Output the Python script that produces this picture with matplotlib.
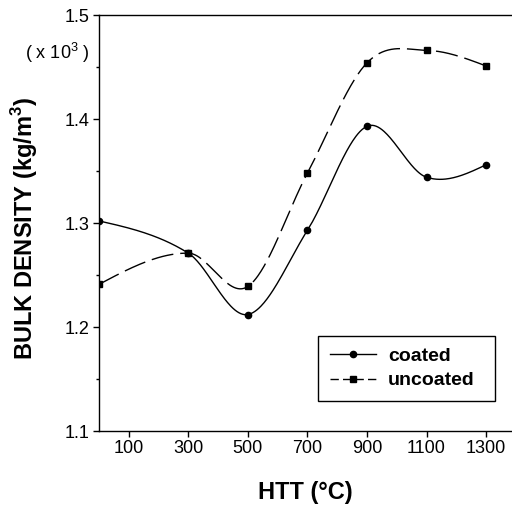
import numpy as np
import matplotlib
matplotlib.use("Agg")
import matplotlib.pyplot as plt

plt.rcParams['font.family'] = ['Liberation Sans', 'DejaVu Sans']
plt.rcParams['mathtext.fontset'] = 'custom'
plt.rcParams['mathtext.rm'] = 'Liberation Sans'
plt.rcParams['mathtext.bf'] = 'Liberation Sans:bold'

htt = [0, 300, 500, 700, 900, 1100, 1300]
coated = [1.302, 1.271, 1.212, 1.293, 1.393, 1.344, 1.356]
uncoated = [1.241, 1.271, 1.239, 1.348, 1.454, 1.466, 1.451]
xticks = [100, 300, 500, 700, 900, 1100, 1300]
yticks = [1.1, 1.2, 1.3, 1.4, 1.5]


def smooth(x, y, n=60):
    # cubic Hermite curve through the points (Catmull-Rom style tangents)
    x = np.asarray(x, float)
    y = np.asarray(y, float)
    k = len(x)
    m = np.zeros(k)
    for i in range(1, k - 1):
        m[i] = (y[i + 1] - y[i - 1]) / (x[i + 1] - x[i - 1])
    s0 = (y[1] - y[0]) / (x[1] - x[0])
    s1 = (y[-1] - y[-2]) / (x[-1] - x[-2])
    m[0] = 1.5 * s0 - 0.5 * m[1]
    m[-1] = 1.5 * s1 - 0.5 * m[-2]
    xs_all, ys_all = [], []
    for i in range(k - 1):
        h = x[i + 1] - x[i]
        t = np.linspace(0, 1, n)
        h00 = 2 * t ** 3 - 3 * t ** 2 + 1
        h10 = t ** 3 - 2 * t ** 2 + t
        h01 = -2 * t ** 3 + 3 * t ** 2
        h11 = t ** 3 - t ** 2
        xs_all.append(x[i] + t * h)
        ys_all.append(h00 * y[i] + h10 * h * m[i] + h01 * y[i + 1] + h11 * h * m[i + 1])
    return np.concatenate(xs_all), np.concatenate(ys_all)


fig = plt.figure(figsize=(5.12, 5.08), dpi=100)
ax = fig.add_axes([99 / 512, 1 - 431 / 508, (512 - 99) / 512, (431 - 15) / 508])

xs, ys = smooth(htt, coated)
ax.plot(xs, ys, color='black', lw=1.0)
ax.plot(htt, coated, 'o', color='black', ms=4.5)

xs, ys = smooth(htt, uncoated)
ax.plot(xs, ys, color='black', lw=1.0, dashes=(16, 5))
ax.plot(htt, uncoated, 's', color='black', ms=3.8)

# legend proxies
ax.plot([], [], '-o', color='black', lw=1.0, ms=4.5, label='coated')
ax.plot([], [], 's', color='black', lw=1.0, ms=3.8, ls=(0, (6, 3)), label='uncoated')

ax.set_xlim(0, 1387)
ax.set_ylim(1.1, 1.5)
ax.set_xticks(xticks)
ax.set_yticks(yticks)
ax.set_yticks([1.15, 1.25, 1.35, 1.45], minor=True)
ax.tick_params(axis='both', which='major', direction='out', length=4, width=1,
               labelsize=13, colors='black', pad=2.5)
ax.tick_params(axis='y', which='minor', direction='out', length=2.5, width=1)
ax.spines['right'].set_visible(False)
for s in ['left', 'top', 'bottom']:
    ax.spines[s].set_linewidth(1)

ax.set_xlabel('HTT (°C)', fontsize=17, fontweight='bold', va='center')
ax.xaxis.set_label_coords(0.499, -0.149)
ax.set_ylabel(r'BULK DENSITY (kg/m$^\mathbf{3}$)', fontsize=17, fontweight='bold', va='center')
ax.yaxis.set_label_coords(-0.18, 0.488)

fig.text(57 / 512, 1 - 53 / 508, r'( x 10$^3$ )', fontsize=13, ha='center', va='center')

leg = ax.legend(loc='lower left', bbox_to_anchor=(0.530, 0.072, 0.429, 0.166),
                mode='expand', fancybox=False,
                edgecolor='black', framealpha=1, handlelength=2.4,
                prop={'size': 14, 'weight': 'bold'}, borderpad=0.6,
                labelspacing=0.35, handletextpad=0.6, borderaxespad=0)
leg.get_frame().set_linewidth(1)

fig.savefig('out.png', dpi=100)
